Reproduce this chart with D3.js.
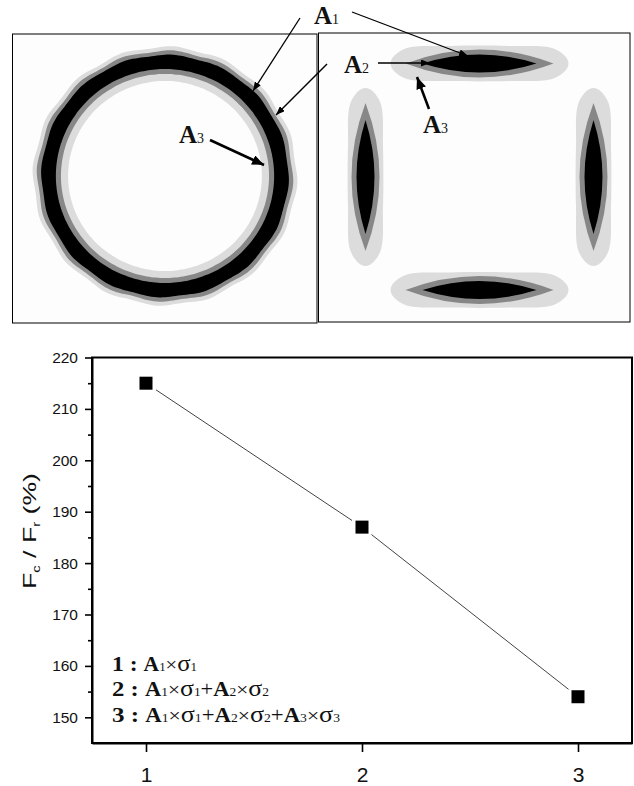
<!DOCTYPE html>
<html>
<head>
<meta charset="utf-8">
<script src="https://cdn.jsdelivr.net/npm/d3@7"></script>
<style>
    body { margin: 0; background: #fff; }
    svg { display: block; }
</style>
</head>
<body>
<svg></svg>
<script>
// данные графика
const steps = [1, 2, 3];
const ratio = [215, 187, 154];
const yMajor = [150, 160, 170, 180, 190, 200, 210, 220];
const yMinor = [155, 165, 175, 185, 195, 205, 215];
const legendIds = ['1', '2', '3'];
const levelColors = ['#dcdcdc', '#878787', '#000'];

const width = 634;
const height = 786;
const svg = d3.select('svg').attr('width', width).attr('height', height);

// ---------- верхние панели (контурные карты) ----------
svg.append('rect').attr('x', 12.5).attr('y', 34).attr('width', 304.5).attr('height', 289)
    .attr('fill', '#fdfdfd').attr('stroke', '#000').attr('stroke-width', 1);
svg.append('rect').attr('x', 318.5).attr('y', 33).attr('width', 311.5).attr('height', 289)
    .attr('fill', '#fdfdfd').attr('stroke', '#000').attr('stroke-width', 1);

// кольцо (левая панель)
const ring = svg.append('g').attr('transform', 'translate(165,176) scale(1.02,1)');
const wavy = (r, amp) => d3.lineRadial()
    .curve(d3.curveCardinalClosed)
    .angle(a => a)
    .radius(a => r + amp * Math.sin(a * 16 + 0.6))(d3.range(0, 2 * Math.PI, Math.PI / 72));
const ringLevels = [
    [129, 1.0, levelColors[0]],
    [125, 0.9, levelColors[1]],
    [121, 0.6, levelColors[2]],
    [107, 0, levelColors[1]],
    [102, 0, levelColors[0]],
    [95, 0, '#fdfdfd']
];
ringLevels.forEach(([r, amp, c]) => {
    ring.append('path').attr('d', wavy(r, amp)).attr('fill', c);
});

// четыре линзы (правая панель)
const lobes = svg.append('g').attr('transform', 'translate(479.5,177)');
const lobePos = [[0, -113.5, 0], [0, 113, 0], [-114, 0, 90], [114, 0, 90]];
const blunt = d3.line().curve(d3.curveCatmullRomClosed);
const lens = (L, H) => `M${-L},0 Q0,${-2 * H} ${L},0 Q0,${2 * H} ${-L},0Z`;
lobePos.forEach(([x, y, rot]) => {
    const g = lobes.append('g').attr('transform', `translate(${x},${y}) rotate(${rot})`);
    g.append('path')
        .attr('d', blunt([[-88, -4], [-74, -15], [-30, -17.5], [30, -17.5], [74, -15], [88, -4],
            [88, 4], [74, 15], [30, 17.5], [-30, 17.5], [-74, 15], [-88, 4]]))
        .attr('fill', levelColors[0]);
    g.append('path').attr('d', lens(74, 14)).attr('fill', levelColors[1]);
    g.append('path').attr('d', lens(57, 9)).attr('fill', levelColors[2]);
});

// стрелки
const defs = svg.append('defs');
[['ahS', 9, 7], ['ahB', 12, 10]].forEach(([id, w, h]) => {
    defs.append('marker').attr('id', id)
        .attr('markerUnits', 'userSpaceOnUse')
        .attr('viewBox', `0 0 ${w} ${h}`)
        .attr('refX', w).attr('refY', h / 2)
        .attr('markerWidth', w).attr('markerHeight', h)
        .attr('orient', 'auto')
        .append('path').attr('d', `M0,0 L${w},${h / 2} L0,${h} Z`).attr('fill', '#000');
});
const arrows = [
    [300, 18, 253, 91, 1.3, 'ahS'],
    [352, 12, 468, 56, 1.3, 'ahS'],
    [327, 64, 276, 115, 1.5, 'ahS'],
    [378, 63, 430, 63, 1.5, 'ahS'],
    [429, 109, 417, 77, 2.6, 'ahB'],
    [210, 140, 264, 165, 2.6, 'ahB']
];
arrows.forEach(([x1, y1, x2, y2, w, m]) => {
    svg.append('line').attr('x1', x1).attr('y1', y1).attr('x2', x2).attr('y2', y2)
        .attr('stroke', '#000').attr('stroke-width', w).attr('marker-end', `url(#${m})`);
});

// подписи A1, A2, A3
const labels = [[314, 24, '1'], [344, 73, '2'], [423, 133, '3'], [179, 143, '3']];
labels.forEach(([x, y, s]) => {
    const t = svg.append('text').attr('x', x).attr('y', y)
        .style('font-family', '"Liberation Serif", serif').attr('fill', '#111');
    t.append('tspan').text('A').style('font-weight', 'bold').style('font-size', '25px');
    t.append('tspan').text(s).style('font-size', '14px');
});

// ---------- нижний график ----------
const plotLeft = 92, plotRight = 632, plotTop = 357.5, plotBottom = 743;
const scaleX = d3.scaleLinear().domain([0.75, 3.25]).range([plotLeft, plotRight]);
const scaleY = d3.scaleLinear().domain([145, 220]).range([plotBottom, plotTop]);

// рамка
svg.append('rect').attr('x', plotLeft).attr('y', plotTop)
    .attr('width', plotRight - plotLeft).attr('height', plotBottom - plotTop)
    .attr('fill', 'none').attr('stroke', '#000').attr('stroke-width', 2);

// ось OY
const gy = svg.append('g').attr('transform', `translate(${plotLeft},0)`)
    .call(d3.axisLeft(scaleY).tickValues(yMajor).tickSize(7).tickSizeOuter(0).tickPadding(7));
svg.append('g').attr('transform', `translate(${plotLeft},0)`)
    .call(d3.axisLeft(scaleY).tickValues(yMinor).tickSize(4).tickSizeOuter(0).tickFormat(''))
    .select('.domain').remove();
gy.selectAll('text').style('font-family', '"Liberation Sans", Arial, sans-serif').style('font-size', '15.5px')
    .attr('fill', '#111');

// ось OX
const gx = svg.append('g').attr('transform', `translate(0,${plotBottom})`)
    .call(d3.axisBottom(scaleX).tickValues(steps).tickSize(9).tickSizeOuter(0).tickPadding(15)
        .tickFormat(d3.format('d')));
gx.selectAll('text').style('font-family', '"Liberation Sans", Arial, sans-serif').style('font-size', '21px')
    .attr('fill', '#111');
svg.selectAll('.domain').attr('stroke-width', 2);
svg.selectAll('.tick line').attr('stroke-width', 1.6);

// линия с разрывами у маркеров
const pts = steps.map((s, i) => [scaleX(s), scaleY(ratio[i])]);
const gap = 12;
for (let i = 0; i < pts.length - 1; i++) {
    const [x1, y1] = pts[i], [x2, y2] = pts[i + 1];
    const len = Math.hypot(x2 - x1, y2 - y1);
    const ux = (x2 - x1) / len, uy = (y2 - y1) / len;
    svg.append('line')
        .attr('x1', x1 + ux * gap).attr('y1', y1 + uy * gap)
        .attr('x2', x2 - ux * gap).attr('y2', y2 - uy * gap)
        .attr('stroke', '#444').attr('stroke-width', 1);
}
const mSize = 13;
svg.selectAll('.pt').data(steps).enter().append('rect')
    .attr('x', d => scaleX(d) - mSize / 2)
    .attr('y', (d, i) => scaleY(ratio[i]) - mSize / 2)
    .attr('width', mSize).attr('height', mSize)
    .attr('fill', '#000');

// подпись оси OY (растянута вдоль строки, как в оригинале)
const yl = svg.append('text')
    .attr('transform', 'translate(36,531) rotate(-90)')
    .attr('text-anchor', 'middle')
    .attr('textLength', 116)
    .attr('lengthAdjust', 'spacingAndGlyphs')
    .style('font-family', '"Liberation Sans", Arial, sans-serif')
    .style('font-size', '18px')
    .attr('fill', '#111');
yl.append('tspan').text('F');
yl.append('tspan').text('c').style('font-size', '10px').attr('dy', 4);
yl.append('tspan').text(' / F').attr('dy', -4);
yl.append('tspan').text('r').style('font-size', '10px').attr('dy', 4);
yl.append('tspan').text(' (%)').attr('dy', -4);

// легенда
const legendY = [671, 696, 722];
const legendLen = [85, 157, 228];
legendIds.forEach((id, k) => {
    const t = svg.append('text').attr('x', 112).attr('y', legendY[k])
        .attr('textLength', legendLen[k]).attr('lengthAdjust', 'spacingAndGlyphs')
        .style('font-family', '"Liberation Serif", serif').attr('fill', '#111');
    t.append('tspan').text(id + ' : ').style('font-weight', 'bold').style('font-size', '22px');
    for (let j = 0; j < +id; j++) {
        if (j > 0) t.append('tspan').text('+').style('font-size', '20px');
        t.append('tspan').text('A').style('font-weight', 'bold').style('font-size', '20px');
        t.append('tspan').text(legendIds[j]).style('font-size', '12px');
        t.append('tspan').text('×').style('font-size', '19px');
        t.append('tspan').text('σ').style('font-size', '23px');
        t.append('tspan').text(legendIds[j]).style('font-size', '12px');
    }
});
</script>
</body>
</html>
